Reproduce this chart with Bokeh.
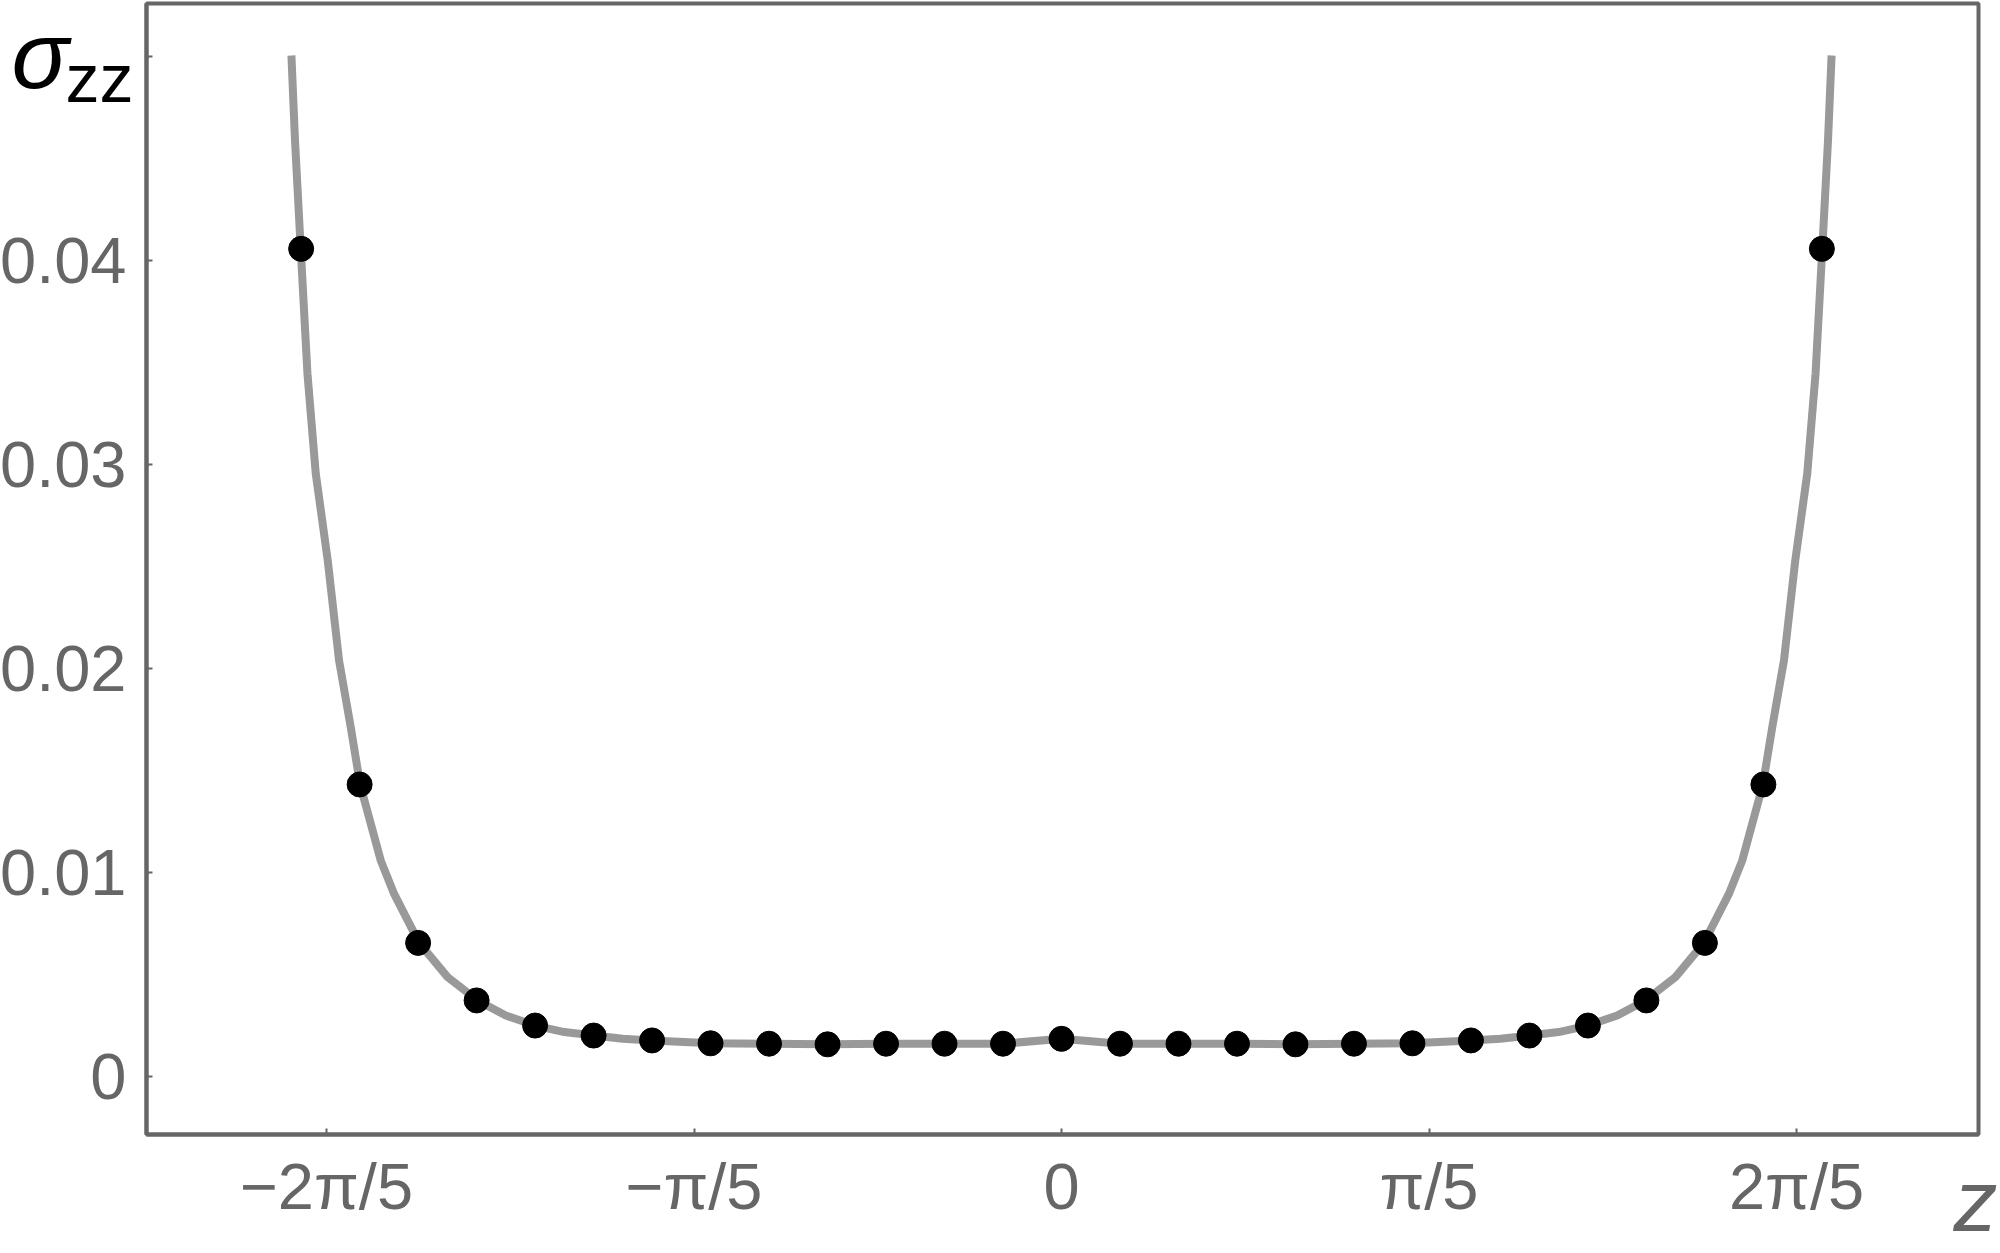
import math
from bokeh.plotting import figure
from bokeh.models import Range1d, FixedTicker, CustomJSTickFormatter, Label, BoxAnnotation
from bokeh.embed import file_html
from bokeh.resources import INLINE

PI = math.pi

# ---- data ----
point_z = [-1.3, -1.2, -1.1, -1.0, -0.9, -0.8, -0.7, -0.6, -0.5, -0.4, -0.3, -0.2, -0.1,
           0.0, 0.1, 0.2, 0.3, 0.4, 0.5, 0.6, 0.7, 0.8, 0.9, 1.0, 1.1, 1.2, 1.3]
point_sigma = [0.04057, 0.01433, 0.00657, 0.00375, 0.00252, 0.00203, 0.00179, 0.00165,
               0.00163, 0.00160, 0.00163, 0.00163, 0.00163, 0.00187, 0.00163, 0.00163,
               0.00163, 0.00160, 0.00163, 0.00165, 0.00179, 0.00203, 0.00252, 0.00375,
               0.00657, 0.01433, 0.04057]

curve_z = [-1.3166, -1.3105, -1.3007, -1.2892, -1.2750, -1.2545, -1.2352, -1.2152, -1.1992,
           -1.1638, -1.1410, -1.0982, -1.0496, -0.9983, -0.95, -0.9, -0.85, -0.8, -0.75, -0.7,
           -0.6, -0.5, -0.4, -0.3, -0.2, -0.1, 0.0,
           0.1, 0.2, 0.3, 0.4, 0.5, 0.6, 0.7, 0.75, 0.8, 0.85, 0.9, 0.95, 0.9983, 1.0496,
           1.0982, 1.1410, 1.1638, 1.1992, 1.2152, 1.2352, 1.2545, 1.2750, 1.2892, 1.3007,
           1.3105, 1.3166]
curve_sigma = [0.05004, 0.04588, 0.04057, 0.03446, 0.02956, 0.02530, 0.02041, 0.01714, 0.01433,
               0.01060, 0.00897, 0.00657, 0.00489, 0.00375, 0.00301, 0.00252, 0.00220,
               0.00203, 0.00187, 0.00179, 0.00165, 0.00163, 0.00161, 0.00163, 0.00163,
               0.00163, 0.00187,
               0.00163, 0.00163, 0.00163, 0.00161, 0.00163, 0.00165, 0.00179, 0.00187,
               0.00203, 0.00220, 0.00252, 0.00301, 0.00375, 0.00489, 0.00657, 0.00897,
               0.01060, 0.01433, 0.01714, 0.02041, 0.02530, 0.02956, 0.03446, 0.04057,
               0.04588, 0.05004]

x_tick_values = [-2 * PI / 5, -PI / 5, 0.0, PI / 5, 2 * PI / 5]
x_tick_labels = ["\u22122\u03c0/5", "\u2212\u03c0/5", "0", "\u03c0/5", "2\u03c0/5"]
y_tick_values = [0.0, 0.01, 0.02, 0.03, 0.04, 0.05]
y_tick_labels = ["0", "0.01", "0.02", "0.03", "0.04", ""]

# plotted (framed) region
frame_x = (-1.5644, 1.5678)
frame_y = (-0.002817, 0.05259)
# whole drawing area, so that the labels outside the frame stay visible
view_x = (-1.8140, 1.6054)
view_y = (-0.008647, 0.052736)

GRAY = "#666666"
W, H = 2000, 1253

p = figure(width=W, height=H,
           x_range=Range1d(*view_x), y_range=Range1d(*view_y),
           output_backend="svg", toolbar_location=None,
           min_border=0, min_border_left=0, min_border_right=0,
           min_border_top=0, min_border_bottom=0)

p.background_fill_color = "white"
p.border_fill_color = "white"
p.outline_line_color = None
p.grid.visible = False

fmt_code = """
for (let i = 0; i < vals.length; i++) {
  if (Math.abs(tick - vals[i]) < 1e-9) { return labs[i]; }
}
return "";
"""

p.xaxis.ticker = FixedTicker(ticks=x_tick_values, minor_ticks=[])
p.xaxis.formatter = CustomJSTickFormatter(args=dict(vals=x_tick_values, labs=x_tick_labels),
                                          code=fmt_code)
p.yaxis.ticker = FixedTicker(ticks=y_tick_values, minor_ticks=[])
p.yaxis.formatter = CustomJSTickFormatter(args=dict(vals=y_tick_values, labs=y_tick_labels),
                                          code=fmt_code)

p.xaxis.fixed_location = frame_y[0]
p.xaxis.bounds = frame_x
p.yaxis.fixed_location = frame_x[0]
p.yaxis.bounds = frame_y

for ax in (p.xaxis, p.yaxis):
    ax.axis_line_color = GRAY
    ax.axis_line_width = 4
    ax.major_tick_line_color = GRAY
    ax.major_tick_line_width = 2
    ax.major_tick_in = 6
    ax.major_tick_out = 0
    ax.minor_tick_line_color = None
    ax.major_label_text_font = "Liberation Sans"
    ax.major_label_text_font_size = "65px"
    ax.major_label_text_color = GRAY

p.xaxis.major_label_standoff = 16
p.yaxis.major_label_standoff = 20

# frame box
p.add_layout(BoxAnnotation(left=frame_x[0], right=frame_x[1],
                           bottom=frame_y[0], top=frame_y[1],
                           fill_color=None, fill_alpha=0,
                           line_color=GRAY, line_alpha=1.0, line_width=4,
                           level="underlay"))

p.line(curve_z, curve_sigma, line_color="#999999", line_width=8, line_join="round")
p.scatter(point_z, point_sigma, size=25, fill_color="black", line_color="black")

# texts (screen units: pixels from the drawing area's lower-left corner)
sig = Label(x=11, y=H - 88 + 34, x_units="screen", y_units="screen", text="\u03c3",
            text_font="Liberation Sans", text_font_style="italic", text_font_size="95px",
            text_color="black", text_baseline="alphabetic", text_align="left")
zz = Label(x=65, y=H - 102 + 25, x_units="screen", y_units="screen", text="zz",
           text_font="Liberation Sans", text_font_style="normal", text_font_size="68px",
           text_color="black", text_baseline="alphabetic", text_align="left")
zlab = Label(x=1953, y=H - 1232 + 32, x_units="screen", y_units="screen", text="z",
             text_font="Liberation Sans", text_font_style="italic", text_font_size="88px",
             text_color=GRAY, text_baseline="alphabetic", text_align="left")
for lab in (sig, zz, zlab):
    p.add_layout(lab)

open("out.html", "w").write(file_html(p, INLINE))
